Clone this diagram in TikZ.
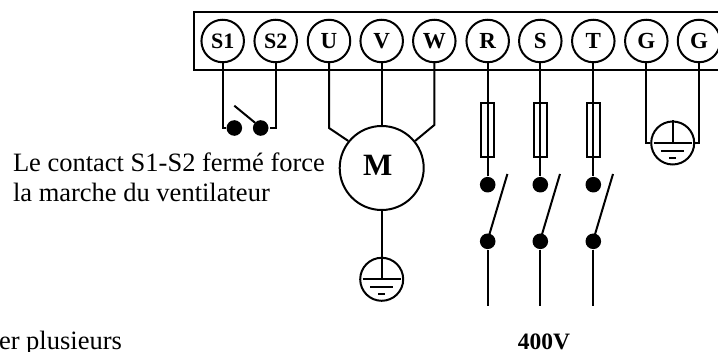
\documentclass[tikz,border=0pt]{standalone}
\usepackage{fontspec}
\setmainfont{Liberation Serif}
\begin{document}
\begin{tikzpicture}[x=1pt,y=-1pt,line width=2pt,
  term/.style={circle,draw,minimum size=42.5pt,inner sep=0pt,font=\fontsize{23}{23}\selectfont\bfseries},
  dotnode/.style={circle,fill=black,minimum size=15.6pt,inner sep=0pt},
  fuse/.style={rectangle,draw,fill=white,minimum width=13pt,minimum height=54.5pt,inner sep=0pt},
  earthring/.style={circle,draw,minimum size=43pt,inner sep=0pt},
  label/.style={font=\fontsize{26.5}{26.5}\selectfont,anchor=base west,inner sep=0pt}]
\clip (0,0) rectangle (718,352);
\coordinate (bl) at (194,12); \coordinate (br) at (730,70);
\draw (bl) rectangle (br);
\node[term] (S1) at (222.7,41) {\fontsize{22}{22}\selectfont S1};
\node[term] (S2) at (275.7,41) {\fontsize{22}{22}\selectfont S2};
\node[term] (U) at (329,41) {U};
\node[term] (V) at (381.7,41) {V};
\node[term] (W) at (434.3,41) {W};
\node[term] (R) at (487.7,41) {R};
\node[term] (S) at (540.3,41) {S};
\node[term] (T) at (593.3,41) {T};
\node[term] (G1) at (646.3,41) {G};
\node[term] (G2) at (699,41) {G};
% S1-S2 contact
\node[dotnode] (a1) at (234.3,128) {};
\node[dotnode] (a2) at (260.7,128) {};
\coordinate (a3) at (234.3,105.7);
\draw (S1.south) |- (a1);
\draw (S2.south) |- (a2);
\coordinate (a5) at (255,122.7);
\draw (a3) -- (a5);
% motor
\node[circle,draw,minimum size=84pt,inner sep=0pt,font=\fontsize{31}{31}\selectfont\bfseries] (M) at (381.7,168) {\hspace*{-8pt}\raisebox{6pt}{M}};
\coordinate (mu) at (329,128);
\coordinate (mw) at (434.3,125);
\draw (U.south) -- (mu) -- (M.141);
\draw (V.south) -- (M.north);
\draw (W.south) -- (mw) -- (M.39);
% motor earth
\node[earthring] (E1) at (381.7,279.3) {};
\draw (M.south) -- (E1.center);
\draw (E1.center) ++(-19,0) coordinate (e1a) -- ++(38,0);
\draw (E1.center) ++(-11.3,8) coordinate (e1b) -- ++(22.6,0);
\draw (E1.center) ++(-3.7,15) coordinate (e1c) -- ++(7.4,0);
% fused lines
\foreach \n/\t/\x in {p/R/487.7,q/S/540.3,r/T/593.3}{
  \node[dotnode] (\n1) at (\x,184.7) {};
  \node[dotnode] (\n2) at (\x,241.3) {};
  \coordinate (\n3) at (\x,305.7);
  \coordinate (\n4) at (\x+19.7,174);
  \coordinate (\n5) at (\x+1.5,235);
  \draw (\t.south) -- (\n1);
  \draw (\n2) -- (\n3);
  \draw (\n5) -- (\n4);
  \node[fuse] (f\n) at (\x,130) {};
  \draw (f\n.north) -- (f\n.south);
}
% terminal earth
\node[earthring] (E2) at (672.7,143) {};
\draw (G1.south) |- (E2.west);
\draw (G2.south) |- (E2.east);
\draw (E2.north) -- (E2.center);
\draw (E2.center) ++(-19,0) coordinate (e2a) -- ++(38,0);
\draw (E2.center) ++(-11.3,8) coordinate (e2b) -- ++(22.6,0);
\draw (E2.center) ++(-3.7,15) coordinate (e2c) -- ++(7.4,0);
% text
\node[label] (t1) at (12,171.5) {Le contact S1-S2 fermé force};
\node[label] (t2) at (12,202) {la marche du ventilateur};
\node[label] (t3) at (-2,350) {er plusieurs};
\node[label,font=\fontsize{23.5}{23.5}\selectfont\bfseries,anchor=base] (t4) at (544,350) {400V};
\end{tikzpicture}
\end{document}
